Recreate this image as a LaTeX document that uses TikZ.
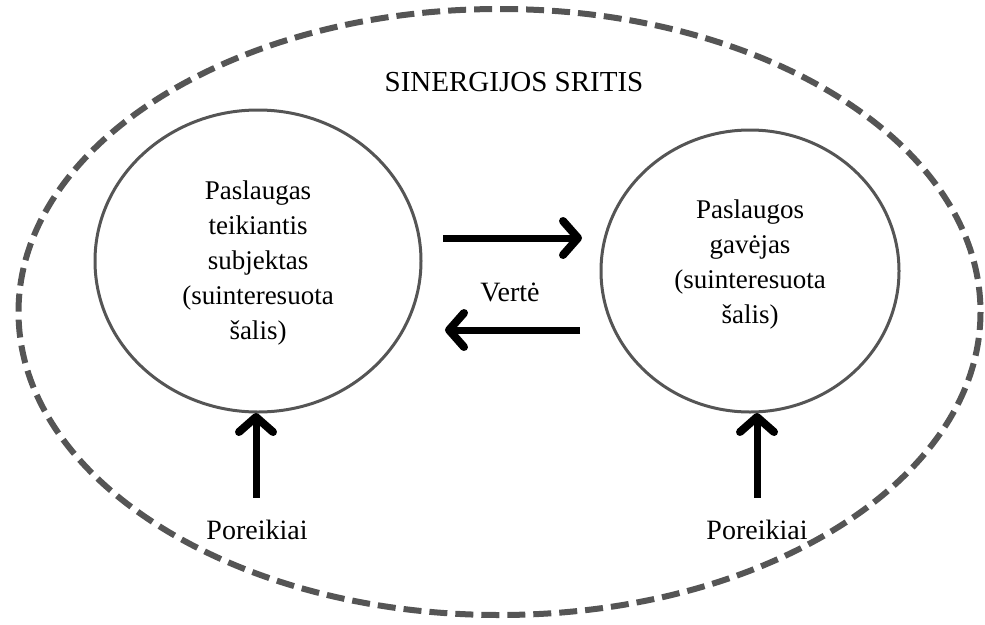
\documentclass[tikz,border=0pt]{standalone}
\usepackage{fontspec}
\setmainfont{Liberation Serif}
\usetikzlibrary{arrows.meta}
\definecolor{ringgray}{HTML}{555555}
\tikzset{
  party/.style={draw=ringgray, line width=3pt},
  partytext/.style={align=center, font=\fontsize{27}{35}\selectfont, inner sep=0pt},
  label/.style={font=\fontsize{28}{34}\selectfont, inner sep=0pt},
  flow/.style={line width=7pt, -{Straight Barb[length=15pt, width=34pt, line width=8pt, round]}},
}
\begin{document}
\begin{tikzpicture}[x=1pt, y=-1pt]
  \useasboundingbox (0,0) rectangle (985,624);

  % synergy area
  \draw[ringgray, line width=6pt, dash pattern=on 18pt off 8pt]
    (499.5,312) ellipse [x radius=481, y radius=303];
  \node[label, font=\fontsize{29}{34}\selectfont] (title) at (514,82) {SINERGIJOS SRITIS};

  % the two stakeholders
  \draw[party] (258,261) ellipse [x radius=163, y radius=151];
  \node[partytext] (prov) at (258,263)
    {Paslaugas\\teikiantis\\subjektas\\(suinteresuota\\šalis)};
  \draw[party] (750,271) ellipse [x radius=149, y radius=141];
  \node[partytext] (recv) at (750,265)
    {Paslaugos\\gavėjas\\(suinteresuota\\šalis)};

  % exchange of value
  \coordinate (toR0) at (443,238);
  \coordinate (toR1) at (582,238);
  \coordinate (toL0) at (580,330);
  \coordinate (toL1) at (445,330);
  \draw[flow] (toR0) -- (toR1);
  \draw[flow] (toL0) -- (toL1);
  \node[label] (value) at (510,292) {Vertė};

  % needs
  \node[label] (needL) at (257,530) {Poreikiai};
  \node[label] (needR) at (757,530) {Poreikiai};
  \coordinate (tipL) at (256,413);
  \coordinate (tipR) at (757,413);
  \draw[flow] (needL.north -| tipL) ++(0,-22) -- (tipL);
  \draw[flow] (needR.north -| tipR) ++(0,-22) -- (tipR);
\end{tikzpicture}
\end{document}
